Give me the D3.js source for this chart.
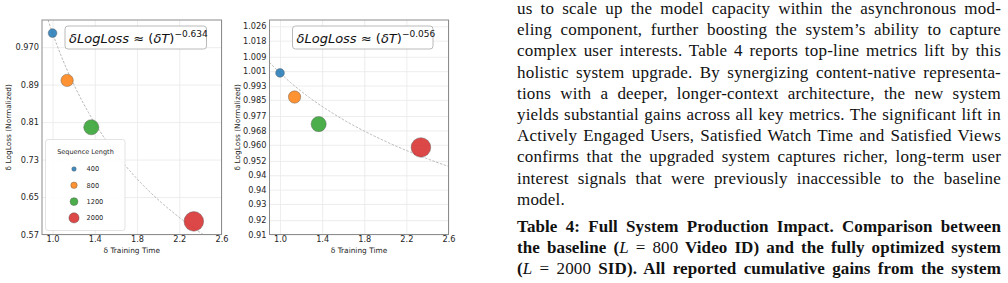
<!DOCTYPE html>
<html>
<head>
<meta charset="utf-8">
<script src="https://cdn.jsdelivr.net/npm/d3@7"></script>
<style>
  html, body { margin: 0; padding: 0; background: #fff; }
  #page { position: relative; width: 1008px; height: 283px; overflow: hidden; }
  #page svg { position: absolute; left: 0; top: 0; }
  .tick text { font-family: "DejaVu Sans", sans-serif; fill: #262626; }
  .para { position: absolute; left: 517px; width: 484px; font-family: "Liberation Serif", serif;
          font-size: 17px; color: #111; white-space: nowrap; letter-spacing: 0.2px; }
  .para.just { text-align: justify; text-align-last: justify; }
  .para.cap { font-weight: bold; letter-spacing: 0.1px; }
  .para .m { font-weight: normal; }
</style>
</head>
<body>
<div id="page"></div>
<script>
// sequence lengths and measured points
var seqLengths = [400, 800, 1200, 2000];
var seqColors = ["#1f77b4", "#ff7f0e", "#2ca02c", "#d62728"];
var trainTime = [1.0, 1.138, 1.367, 2.338];
var lossLeft = [1.000, 0.899, 0.799, 0.598];
var lossRight = [1.000, 0.9866, 0.9715, 0.9585];

// fit exponents
var expLeft = -0.634;
var expRight = -0.056;

// axis ticks
var xTicks = [1.0, 1.4, 1.8, 2.2, 2.6];
var xTickLabels = ["1.0", "1.4", "1.8", "2.2", "2.6"];
var yTicksLeft = [0.57, 0.65, 0.73, 0.81, 0.89, 0.97];
var yTickLabelsLeft = ["0.57", "0.65", "0.73", "0.81", "0.89", "0.970"];
var yTicksRight = [0.910, 0.918, 0.927, 0.935, 0.943, 0.951, 0.960, 0.968, 0.976, 0.985, 0.993, 1.001, 1.009, 1.018, 1.026];
var yTickLabelsRight = ["0.91", "0.92", "0.93", "0.94", "0.94", "0.952", "0.960", "0.968", "0.977", "0.985", "0.993", "1.001", "1.009", "1.018", "1.026"];

var paraLines = [
  "us to scale up the model capacity within the asynchronous mod-",
  "eling component, further boosting the system\u2019s ability to capture",
  "complex user interests. Table 4 reports top-line metrics lift by this",
  "holistic system upgrade. By synergizing content-native representa-",
  "tions with a deeper, longer-context architecture, the new system",
  "yields substantial gains across all key metrics. The significant lift in",
  "Actively Engaged Users, Satisfied Watch Time and Satisfied Views",
  "confirms that the upgraded system captures richer, long-term user",
  "interest signals that were previously inaccessible to the baseline",
  "model."
];
var captionLines = [
  "Table 4: Full System Production Impact. Comparison between",
  "the baseline (<i class='m'>L</i> <span class='m'>= 800</span> Video ID) and the fully optimized system",
  "(<i class='m'>L</i> <span class='m'>= 2000</span> SID). All reported cumulative gains from the system"
];

var page = d3.select("#page");
var svg = page.append("svg").attr("width", 1008).attr("height", 283);

var rScale = d3.scaleSqrt().domain([0, 2000]).range([0, 9.8]);

function drawPanel(opt) {
  var w = opt.right - opt.left, h = opt.bottom - opt.top;
  var x = d3.scaleLinear().domain([0.9, 2.6]).range([0, w]);
  var y = d3.scaleLinear().domain(opt.yDomain).range([h, 0]);

  var g = svg.append("g").attr("transform", "translate(" + opt.left + "," + opt.top + ")");

  // grid
  g.append("g").call(d3.axisLeft(y).tickValues(opt.yTicks).tickSize(-w).tickFormat(""))
    .call(function(s) { s.select(".domain").remove(); s.selectAll("line").attr("stroke", "#e8e8e8").attr("stroke-width", 0.8); });
  g.append("g").attr("transform", "translate(0," + h + ")")
    .call(d3.axisBottom(x).tickValues(xTicks).tickSize(-h).tickFormat(""))
    .call(function(s) { s.select(".domain").remove(); s.selectAll("line").attr("stroke", "#e8e8e8").attr("stroke-width", 0.8); });

  // tick labels
  g.append("g").call(d3.axisLeft(y).tickValues(opt.yTicks).tickSize(0).tickPadding(3)
      .tickFormat(function(d, i) { return opt.yLabels[i]; }))
    .call(function(s) { s.select(".domain").remove(); s.selectAll("text").style("font-size", "8.2px"); });
  g.append("g").attr("transform", "translate(0," + h + ")")
    .call(d3.axisBottom(x).tickValues(xTicks).tickSize(0).tickPadding(2)
      .tickFormat(function(d, i) { return xTickLabels[i]; }))
    .call(function(s) { s.select(".domain").remove(); s.selectAll("text").style("font-size", "8.2px"); });

  // fit curve
  var clipId = "clip" + opt.id;
  g.append("clipPath").attr("id", clipId).append("rect").attr("width", w).attr("height", h);
  var xs = d3.range(0.9, 2.601, 0.01);
  g.append("path")
    .attr("clip-path", "url(#" + clipId + ")")
    .attr("d", d3.line().x(function(d) { return x(d); }).y(function(d) { return y(Math.pow(d, opt.exp)); })(xs))
    .attr("fill", "none").attr("stroke", "#b0b0b0").attr("stroke-width", 0.9)
    .attr("stroke-dasharray", "2.5,1.5");

  // points
  g.selectAll(".pt").data(seqLengths).enter().append("circle")
    .attr("class", "pt")
    .attr("cx", function(d, i) { return x(trainTime[i]); })
    .attr("cy", function(d, i) { return y(opt.values[i]); })
    .attr("r", function(d) { return rScale(d); })
    .attr("fill", function(d, i) { return seqColors[i]; })
    .attr("fill-opacity", 0.85)
    .attr("stroke", "#555").attr("stroke-opacity", 0.8).attr("stroke-width", 0.5);

  // frame
  g.append("rect").attr("width", w).attr("height", h)
    .attr("fill", "none").attr("stroke", "#8c8c8c").attr("stroke-width", 1);

  // annotation box
  var ann = g.append("g").attr("transform", "translate(" + opt.boxX + ",6)");
  ann.append("rect").attr("width", opt.boxW).attr("height", 23).attr("rx", 3)
    .attr("fill", "#fff").attr("stroke", "#a8a8a8").attr("stroke-width", 0.8);
  var t = ann.append("text").attr("x", 4).attr("y", 16.5)
    .style("font-family", "'DejaVu Sans', sans-serif").style("font-size", "13px").attr("fill", "#111");
  t.append("tspan").style("font-style", "italic").text("\u03b4LogLoss");
  t.append("tspan").text(" \u2248 (");
  t.append("tspan").style("font-style", "italic").text("\u03b4T");
  t.append("tspan").text(")");
  t.append("tspan").attr("dy", -5.5).style("font-size", "9px").text("\u2212" + Math.abs(opt.exp).toFixed(3));

  // axis labels
  svg.append("text").attr("x", opt.left + w / 2).attr("y", 253)
    .attr("text-anchor", "middle").style("font-family", "'DejaVu Sans', sans-serif")
    .style("font-size", "7.4px").attr("fill", "#262626").text("\u03b4 Training Time");
  svg.append("text").attr("transform", "translate(" + opt.yLabelX + "," + (opt.top + h / 2) + ") rotate(-90)")
    .attr("text-anchor", "middle").style("font-family", "'DejaVu Sans', sans-serif")
    .style("font-size", "7.4px").attr("fill", "#262626").text("\u03b4 LogLoss (Normalized)");

  return g;
}

var gLeft = drawPanel({ id: "a", left: 42, right: 221.5, top: 20, bottom: 234.5,
  yDomain: [0.57, 1.028], yTicks: yTicksLeft, yLabels: yTickLabelsLeft, values: lossLeft,
  exp: expLeft, boxX: 23, boxW: 141.5, yLabelX: 11 });
drawPanel({ id: "b", left: 269.5, right: 448.5, top: 20, bottom: 234.5,
  yDomain: [0.91, 1.0295], yTicks: yTicksRight, yLabels: yTickLabelsRight, values: lossRight,
  exp: expRight, boxX: 23, boxW: 140.5, yLabelX: 240 });

// legend (left panel)
var leg = gLeft.append("g").attr("transform", "translate(3.5,119.5)");
leg.append("rect").attr("width", 79.5).attr("height", 91).attr("rx", 2.5)
  .attr("fill", "#fff").attr("fill-opacity", 0.85).attr("stroke", "#dcdcdc").attr("stroke-width", 0.8);
leg.append("text").attr("x", 40).attr("y", 14.5).attr("text-anchor", "middle")
  .style("font-family", "'DejaVu Sans', sans-serif").style("font-size", "6.5px").attr("fill", "#262626")
  .text("Sequence Length");
var items = leg.selectAll(".item").data(seqLengths).enter().append("g")
  .attr("class", "item")
  .attr("transform", function(d, i) { return "translate(28.5," + (29.5 + i * 16.3) + ")"; });
items.append("circle").attr("r", function(d) { return rScale(d) * 0.52; })
  .attr("fill", function(d, i) { return seqColors[i]; }).attr("fill-opacity", 0.85)
  .attr("stroke", "#555").attr("stroke-opacity", 0.8).attr("stroke-width", 0.5);
items.append("text").attr("x", 12.5).attr("y", 2.3)
  .style("font-family", "'DejaVu Sans', sans-serif").style("font-size", "6.6px").attr("fill", "#262626")
  .text(function(d) { return d; });

// paper text on the right
var pitch = 21.2;
paraLines.forEach(function(line, i) {
  page.append("div").attr("class", "para" + (i < paraLines.length - 1 ? " just" : ""))
    .style("top", (i * pitch - 2) + "px").style("line-height", pitch + "px").text(line);
});
captionLines.forEach(function(line, i) {
  page.append("div").attr("class", "para just cap")
    .style("top", (216 + i * pitch) + "px").style("line-height", pitch + "px").html(line);
});
</script>
</body>
</html>
